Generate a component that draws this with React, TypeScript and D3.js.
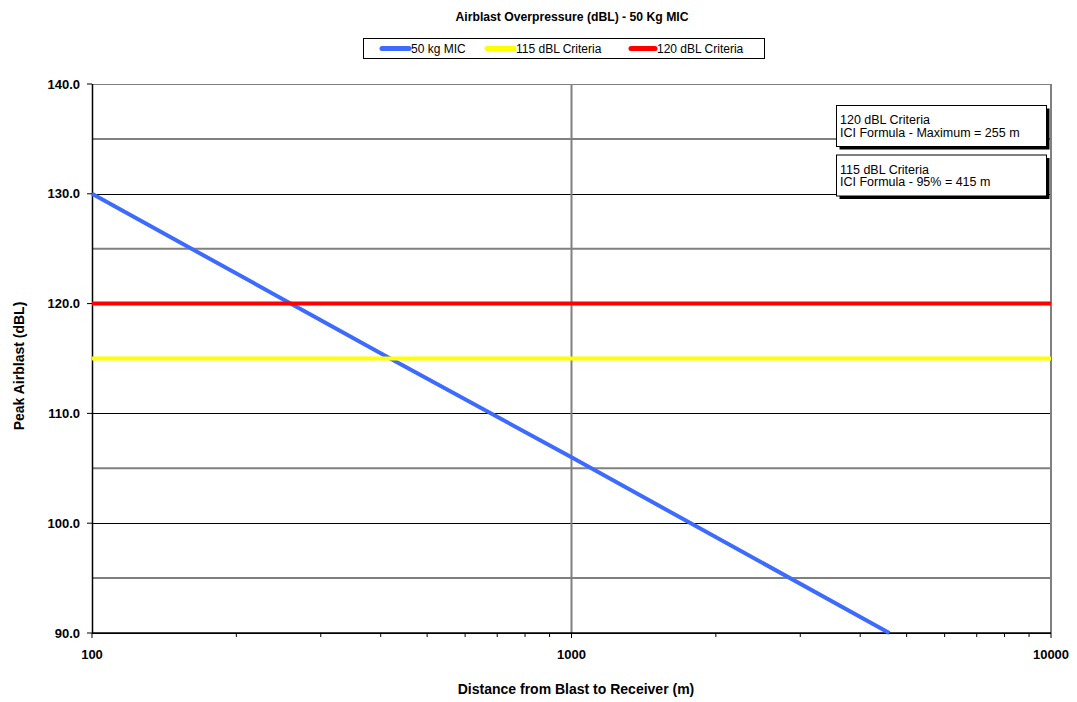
import React from 'react';
import * as d3 from 'd3';

// distance (m) vs peak airblast (dBL)
const micDistances = [100, 255, 415, 1000, 4600];
const micValues = [130, 120.2, 115.1, 106, 90];
const criteriaDistances = [100, 10000];
const criteria115 = [115, 115];
const criteria120 = [120, 120];

const yMajorTicks = [90, 100, 110, 120, 130, 140];
const yMinorTicks = [95, 105, 115, 125, 135];
const xMajorTicks = [100, 1000, 10000];

const seriesNames = ['50 kg MIC', '115 dBL Criteria', '120 dBL Criteria'];
const seriesColors = ['#3d6bff', '#ffff00', '#ff0000'];

const notes = [
  ['120 dBL Criteria', 'ICI Formula  - Maximum = 255 m'],
  ['115 dBL Criteria', 'ICI Formula  - 95% = 415 m'],
];

const W = 1077;
const H = 702;
const margin = { top: 84, right: 26, bottom: 69, left: 92 };
const font = 'Arial, "Liberation Sans", sans-serif';

export default function App() {
  const innerW = W - margin.left - margin.right;
  const innerH = H - margin.top - margin.bottom;

  const x = d3.scaleLog().domain([100, 10000]).range([0, innerW]);
  const y = d3.scaleLinear().domain([90, 140]).range([innerH, 0]);

  const line = d3
    .line<[number, number]>()
    .x(d => x(d[0]))
    .y(d => y(d[1]));

  const series: [number, number][][] = [
    micDistances.map((d, i) => [d, micValues[i]]),
    criteriaDistances.map((d, i) => [d, criteria115[i]]),
    criteriaDistances.map((d, i) => [d, criteria120[i]]),
  ];

  const minorX: number[] = [];
  [100, 1000].forEach(base => {
    for (let k = 2; k <= 9; k++) minorX.push(base * k);
  });

  const legendItems = [
    { x: 382, w: 27 },
    { x: 487, w: 27 },
    { x: 631, w: 24 },
  ];

  return (
    <svg width={W} height={H} style={{ display: 'block', position: 'absolute', left: 0, top: 0 }} fontFamily={font}>
      <rect width={W} height={H} fill="#fff" />
      <text x={572} y={21} textAnchor="middle" fontSize={12.2} fontWeight="bold">
        Airblast Overpressure (dBL) - 50 Kg MIC
      </text>

      {/* legend */}
      <rect x={363.5} y={38.5} width={401} height={20} fill="#fff" stroke="#000" />
      {seriesNames.map((n, i) => (
        <g key={n}>
          <line
            x1={legendItems[i].x}
            x2={legendItems[i].x + legendItems[i].w}
            y1={48.5}
            y2={48.5}
            stroke={seriesColors[i]}
            strokeWidth={5}
            strokeLinecap="round"
          />
          <text x={legendItems[i].x + legendItems[i].w + 2} y={53} fontSize={12}>
            {n}
          </text>
        </g>
      ))}

      <g transform={`translate(${margin.left},${margin.top})`}>
        {/* minor horizontal gridlines */}
        {yMinorTicks.map(t => (
          <line key={'m' + t} x1={0} x2={innerW} y1={y(t)} y2={y(t)} stroke="#808080" strokeWidth={2} />
        ))}
        {/* major horizontal gridlines */}
        {yMajorTicks.map(t => (
          <line
            key={'M' + t}
            x1={0}
            x2={innerW}
            y1={Math.round(y(t)) + 0.5}
            y2={Math.round(y(t)) + 0.5}
            stroke={t === 140 ? '#808080' : '#000'}
            strokeWidth={1}
          />
        ))}
        {/* vertical gridline */}
        <line x1={x(1000)} x2={x(1000)} y1={0} y2={innerH} stroke="#808080" strokeWidth={2} />
        <line x1={innerW} x2={innerW} y1={0} y2={innerH} stroke="#808080" strokeWidth={2} />

        {/* axes */}
        <line x1={0.5} x2={0.5} y1={0} y2={innerH} stroke="#000" strokeWidth={1.5} />
        <line x1={0} x2={innerW} y1={innerH} y2={innerH} stroke="#000" strokeWidth={1.5} />
        {yMajorTicks.map(t => (
          <g key={'yt' + t}>
            <line x1={-5} x2={0} y1={y(t)} y2={y(t)} stroke="#000" />
            <text x={-12} y={y(t) + 4.5} textAnchor="end" fontSize={13} fontWeight="bold">
              {t.toFixed(1)}
            </text>
          </g>
        ))}
        {xMajorTicks.map(t => (
          <g key={'xt' + t}>
            <line x1={x(t)} x2={x(t)} y1={innerH} y2={innerH + 5} stroke="#000" />
            <text x={x(t)} y={innerH + 26} textAnchor="middle" fontSize={13} fontWeight="bold">
              {t}
            </text>
          </g>
        ))}
        {minorX.map(t => (
          <line key={'mx' + t} x1={x(t)} x2={x(t)} y1={innerH} y2={innerH + 4} stroke="#000" />
        ))}

        {/* series */}
        {series.map((s, i) => (
          <path key={i} d={line(s) || ''} fill="none" stroke={seriesColors[i]} strokeWidth={4} />
        ))}
      </g>

      {/* annotation boxes */}
      {notes.map((lines, i) => {
        const bx = 836.5;
        const by = 105.5 + i * 49.5;
        const bw = 210;
        const bh = 41;
        return (
          <g key={i}>
            <rect x={bx + 3} y={by + 3} width={bw} height={bh} fill="#000" />
            <rect x={bx} y={by} width={bw} height={bh} fill="#fff" stroke="#000" />
            <text x={bx + 3.5} y={by + 18.5} fontSize={12.5}>
              {lines[0]}
            </text>
            <text x={bx + 3.5} y={by + 31} fontSize={12.5}>
              {lines[1]}
            </text>
          </g>
        );
      })}

      <text
        transform={`translate(24,366) rotate(-90)`}
        textAnchor="middle"
        fontSize={14}
        fontWeight="bold"
      >
        Peak Airblast (dBL)
      </text>
      <text x={576} y={694} textAnchor="middle" fontSize={14} fontWeight="bold">
        Distance from Blast to Receiver  (m)
      </text>
    </svg>
  );
}
